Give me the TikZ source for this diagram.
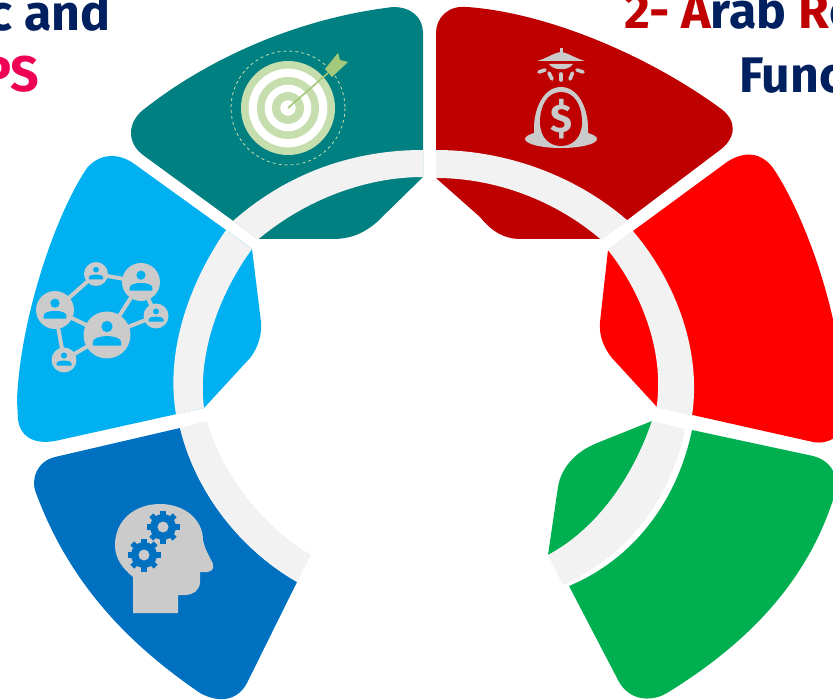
\documentclass[tikz,border=0pt]{standalone}
\usepackage{fontspec}
\setmainfont{Fira Sans}[BoldFont={Fira Sans Bold}]
\definecolor{cteal}{HTML}{008080}
\definecolor{csky}{HTML}{00B0F0}
\definecolor{cblue}{HTML}{0070C0}
\definecolor{cdred}{HTML}{BE0000}
\definecolor{cred}{HTML}{FF0000}
\definecolor{cgreen}{HTML}{00B050}
\definecolor{cring}{HTML}{F2F2F2}
\definecolor{cicon}{HTML}{CBCBCB}
\definecolor{cnavy}{HTML}{002060}
\definecolor{ctred}{HTML}{C00000}
\definecolor{cpink}{HTML}{EE0055}
\definecolor{ctg}{HTML}{C6DDAE}
\definecolor{carrow}{HTML}{A2CA7A}
\tikzset{
  ringseg/.style={fill=cring},
  icon/.style={fill=cicon},
  iconline/.style={draw=cicon,line width=3.6pt,line cap=round},
  title/.style={font=\bfseries\fontsize{50}{50}\selectfont,inner sep=0pt},
}
\newcommand{\mygear}[3]{%
  \fill[cblue] (#1,#2) circle (13);
  \foreach \a in {0,45,...,315}{\draw[cblue,line width=5.5pt] (#1,#2) ++(\a:10) -- ++(\a:6.5);}
  \fill[cicon] (#1,#2) circle (#3);
}
\begin{document}
\begin{tikzpicture}[x=1pt,y=-1pt]
\useasboundingbox (0,0) rectangle (833,700);
\clip (0,0) rectangle (833,700);
\fill[white] (0,0) rectangle (833,700);

% titles
\node[title,anchor=base east,text=cnavy] (t1) at (111,31) {c and};
\node[title,anchor=base east,text=cpink] (t2) at (39,92) {PS};
\node[title,anchor=base west] (t3) at (624,29) {\textcolor{ctred}{2- A}\textcolor{cnavy}{rab }\textcolor{ctred}{R}\textcolor{cnavy}{e}};
\node[title,anchor=base west,text=cnavy] (t4) at (739,93) {Func};

% teal
\fill[cteal] (393,7) .. controls (412,7) and (423,18) .. (423,33) -- (423,177) -- (377,222)
  .. controls (362,235) and (348,239) .. (333,239) -- (258,239) -- (143,155)
  .. controls (127,143) and (127,123) .. (143,110)
  .. controls (210,57) and (300,18) .. (393,7) -- cycle;
\fill[ringseg] (423,150) .. controls (350,150) and (285,175) .. (233,221) -- (258,239.5)
  .. controls (305,200) and (365,177) .. (423,177) -- cycle;

% sky blue
\fill[csky] (133,163) .. controls (118,153) and (100,153) .. (87,168)
  .. controls (55,215) and (20,320) .. (17,400) -- (18,420)
  .. controls (20,435) and (32,445) .. (55,441) -- (204,408) -- (250,358)
  .. controls (258,348) and (262,335) .. (261,322) -- (252,249) -- (226,230) -- cycle;
\fill[ringseg] (226,230) .. controls (190,282) and (165,350) .. (176,414.5) -- (204,408)
  .. controls (197,350) and (222,290) .. (252,249) -- cycle;

% dark blue
\fill[cblue] (180,428) -- (55,457) .. controls (38,461) and (30,478) .. (36,493)
  .. controls (70,585) and (130,645) .. (200,693)
  .. controls (220,704) and (238,700) .. (247,683) -- (297,582)
  .. controls (238,548) and (195,490) .. (180,428) -- cycle;
\fill[ringseg] (180,428) .. controls (195,490) and (238,548) .. (297,582) -- (311,555)
  .. controls (260,525) and (220,470) .. (207,421) -- cycle;

% dark red
\fill[cdred] (467,7) .. controls (448,5) and (436,18) .. (436,33) -- (436,178) -- (480,217)
  .. controls (492,232) and (505,239) .. (520,239) -- (602,239) -- (720,150)
  .. controls (737,137) and (737,120) .. (720,108)
  .. controls (640,50) and (540,12) .. (467,7) -- cycle;
\fill[ringseg] (436,150) .. controls (505,150) and (575,175) .. (627.5,220.5) -- (601.5,240)
  .. controls (555,200) and (495,178) .. (436,178) -- cycle;

% red
\fill[cred] (633,231) -- (727,162) .. controls (745,150) and (762,153) .. (773,168)
  .. controls (805,215) and (843,320) .. (843,400) -- (843,420)
  .. controls (843,435) and (830,445) .. (813,442) -- (657,407) -- (612,358)
  .. controls (603,347) and (599,335) .. (600,322) -- (608,250) -- cycle;
\fill[ringseg] (632.5,230.5) .. controls (675,280) and (702,350) .. (692,415.5) -- (656.5,407.5)
  .. controls (665,350) and (640,290) .. (607.5,249.5) -- cycle;

% green
\fill[cgreen] (692,430) -- (813,456) .. controls (833,461) and (842,480) .. (833,500)
  .. controls (805,585) and (745,645) .. (667,693)
  .. controls (650,703) and (628,700) .. (618,680) -- (569,586)
  .. controls (636,558) and (678,498) .. (692,430) -- cycle;
\fill[cgreen] (652,421) -- (597,443) .. controls (575,452) and (561,468) .. (558,487)
  -- (548,555) .. controls (595,530) and (632,480) .. (652,421) -- cycle;
\fill[ringseg] (685,429) .. controls (672,495) and (630,555) .. (563,585) -- (548,555)
  .. controls (595,530) and (632,480) .. (652,421) -- cycle;

% target icon
\coordinate (tc) at (288,108);
\draw[ctg,line width=0.8pt,dash pattern=on 3pt off 3pt] (tc) circle (57);
\fill[ctg] (tc) circle (47);
\fill[white] (tc) circle (39.3);
\fill[ctg] (tc) circle (31);
\fill[white] (tc) circle (23.3);
\fill[ctg] (tc) circle (16);
\fill[white] (tc) circle (7.7);
\coordinate (ta) at (328,73);
\draw[carrow,line width=1.6pt] (tc) -- (ta);
\fill[carrow] (325,69) -- (338,53) -- (340,60) -- (348,62) -- (332,77) -- cycle;

% money icon
\fill[icon] (559.5,48) rectangle (562.5,54);
\fill[icon] (537,61) .. controls (548,58) and (553,53) .. (561,52)
  .. controls (569,53) and (574,58) .. (585,61) -- cycle;
\fill[icon] (549,64) .. controls (553,71) and (569,71) .. (573,64) -- cycle;
\foreach \xa/\ya/\xb/\yb in {539/72/545/70,549/73/552/79,561/74/561/80,572.5/73/570/79,583/72/577/70}
  \draw[iconline] (\xa,\ya) -- (\xb,\yb);
\fill[icon] (561,139) ellipse (36 and 9);
\fill[icon] (561,87) .. controls (544,87) and (534,108) .. (534,128) -- (534,139) -- (588,139) -- (588,128)
  .. controls (588,108) and (578,87) .. (561,87) -- cycle;
\fill[cdred] (561,92) .. controls (548,92) and (540,105) .. (540,122)
  .. controls (540,138) and (550,146) .. (561,146)
  .. controls (572,146) and (582,138) .. (582,122)
  .. controls (582,105) and (574,92) .. (561,92) -- cycle;
\node[font=\bfseries\fontsize{40}{40}\selectfont,text=cicon,inner sep=0pt] (dollar) at (561,119) {\$};

% network icon
\coordinate (n1) at (55,310);
\coordinate (n2) at (96,274);
\coordinate (n3) at (141,282);
\coordinate (n4) at (156,316);
\coordinate (n5) at (107,335);
\coordinate (n6) at (64,360);
\foreach \a/\b in {n1/n2,n2/n3,n3/n4,n3/n5,n4/n5,n1/n5,n1/n6,n6/n5}
  \draw[draw=cicon,line width=4pt] (\a) -- (\b);
\foreach \x/\y/\r in {55/310/19,96/274/12,141/282/19,156/316/12.5,107/335/23.5,64/360/12.5}{
  \fill[icon] (\x,\y) circle (\r);
  \begin{scope}[shift={(\x,\y)},scale=\r]
    \fill[csky] (0,-.36) circle (.24);
    \fill[csky] (-.6,.45) -- (-.6,.3) .. controls (-.6,.15) and (-.35,.05) .. (0,.05)
      .. controls (.35,.05) and (.6,.15) .. (.6,.3) -- (.6,.45) -- cycle;
  \end{scope}
}

% head icon
\fill[icon] (133,613) -- (133,577) .. controls (122,568) and (115,558) .. (115,545)
  .. controls (115,520) and (135,504) .. (160,504)
  .. controls (185,504) and (203,520) .. (203,540)
  .. controls (205,550) and (210,557) .. (213,564)
  .. controls (215,570) and (210,573) .. (203,572) -- (200,572) -- (200,582)
  .. controls (200,590) and (193,595) .. (186,595) -- (178,595) -- (178,613) -- cycle;
\mygear{163}{527}{5.5}
\mygear{144}{555}{5.5}
\end{tikzpicture}
\end{document}
